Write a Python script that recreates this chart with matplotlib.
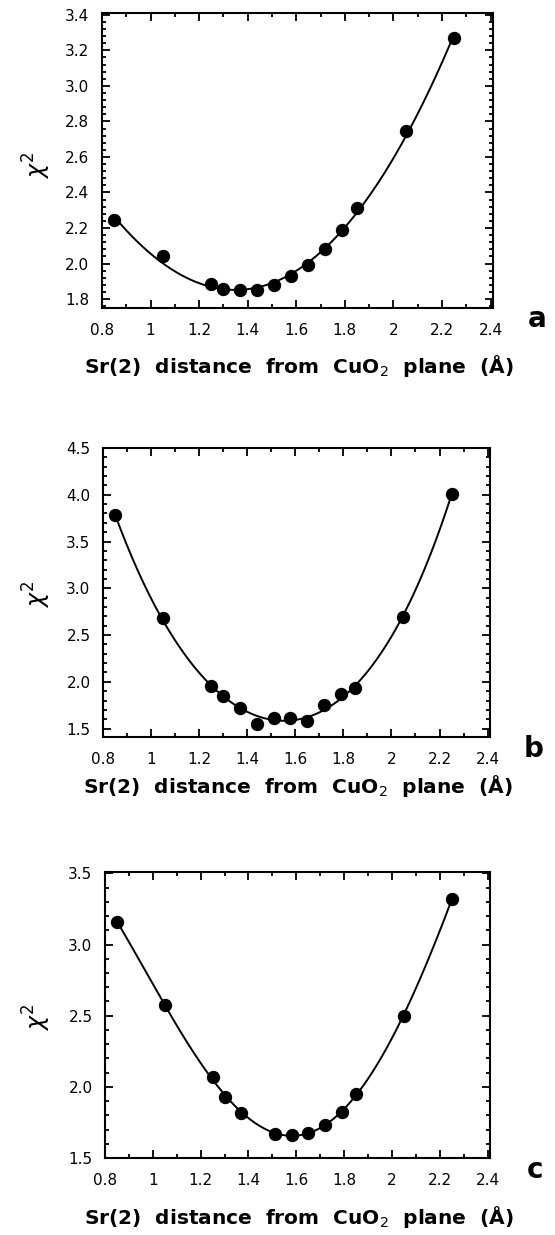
import numpy as np
import matplotlib
matplotlib.use("Agg")
import matplotlib.pyplot as plt
from matplotlib.ticker import MultipleLocator, FixedFormatter, FixedLocator, FormatStrFormatter

# Sr(2) distance from the CuO2 plane (A) and chi^2 of each refinement
x_ab = [0.85, 1.05, 1.25, 1.30, 1.37, 1.44, 1.51, 1.58, 1.65, 1.72, 1.79, 1.85, 2.05, 2.25]
chi_a = [2.243, 2.04, 1.885, 1.857, 1.849, 1.853, 1.877, 1.928, 1.994, 2.082, 2.191, 2.31, 2.744, 3.27]
chi_b = [3.78, 2.68, 1.957, 1.85, 1.725, 1.554, 1.614, 1.618, 1.579, 1.75, 1.868, 1.929, 2.689, 4.011]
x_c = [0.85, 1.05, 1.25, 1.30, 1.37, 1.51, 1.58, 1.65, 1.72, 1.79, 1.85, 2.05, 2.25]
chi_c = [3.161, 2.576, 2.068, 1.932, 1.815, 1.67, 1.663, 1.675, 1.733, 1.825, 1.951, 2.501, 3.317]

xticks = [0.8, 1.0, 1.2, 1.4, 1.6, 1.8, 2.0, 2.2, 2.4]
xticklabels = ["0.8", "1", "1.2", "1.4", "1.6", "1.8", "2", "2.2", "2.4"]

W, H = 555, 1235
fig = plt.figure(figsize=(W / 100, H / 100), dpi=100)


def px(x, y):
    return x / W, 1 - y / H


def box(l, t, r, b):
    return [l / W, 1 - b / H, (r - l) / W, (b - t) / H]


panels = [
    # frame (l, t, r, b), data, ylim, y major/minor, fit order, label positions
    dict(rect=(102, 13, 493, 308), x=x_ab, y=chi_a, ylim=(1.75, 3.41), maj=0.2, mnr=0.04,
         deg=3, yl=165, xl=366, letter="a", lpos=(537, 327)),
    dict(rect=(103, 448, 490, 737), x=x_ab, y=chi_b, ylim=(1.41, 4.5), maj=0.5, mnr=0.1,
         deg=4, yl=594, xl=786, letter="b", lpos=(534, 757)),
    dict(rect=(105, 872, 490, 1158), x=x_c, y=chi_c, ylim=(1.5, 3.51), maj=0.5, mnr=0.1,
         deg=4, yl=1017, xl=1217, letter="c", lpos=(535, 1178)),
]

for p in panels:
    ax = fig.add_axes(box(*p["rect"]))
    xs = np.array(p["x"])
    ys = np.array(p["y"])

    # least-squares polynomial through the points
    coef = np.polyfit(xs, ys, p["deg"])
    xf = np.linspace(xs.min(), xs.max(), 300)
    ax.plot(xf, np.polyval(coef, xf), color="black", lw=1.4, zorder=2)
    ax.plot(xs, ys, "o", color="black", ms=8.6, zorder=3)

    ax.set_xlim(0.8, 2.41)
    ax.set_ylim(*p["ylim"])
    ax.xaxis.set_major_locator(FixedLocator(xticks))
    ax.xaxis.set_major_formatter(FixedFormatter(xticklabels))
    ax.xaxis.set_minor_locator(MultipleLocator(0.1))
    ax.yaxis.set_major_locator(MultipleLocator(p["maj"]))
    ax.yaxis.set_minor_locator(MultipleLocator(p["mnr"]))
    ax.yaxis.set_major_formatter(FormatStrFormatter("%.1f"))

    ax.tick_params(which="both", direction="in", top=True, right=True, width=1.3)
    ax.tick_params(which="major", length=6)
    ax.tick_params(which="minor", length=3)
    ax.tick_params(axis="x", which="major", pad=11, labelsize=11)
    ax.tick_params(axis="y", which="major", pad=9, labelsize=11)
    for s in ax.spines.values():
        s.set_linewidth(1.5)

    l, t, r, b = p["rect"]
    fig.text(*px(37, p["yl"]), r"$\chi^2$", rotation=90, ha="center", va="center",
             fontsize=17)
    fig.text(*px((l + r) / 2 + 1, p["xl"]),
             "Sr(2)  distance  from  CuO$_2$  plane  (Å)",
             ha="center", va="center", fontsize=14.5, fontweight="bold")
    fig.text(*px(*p["lpos"]), p["letter"], ha="center", va="baseline",
             fontsize=20, fontweight="bold")

fig.savefig("out.png", dpi=100)
